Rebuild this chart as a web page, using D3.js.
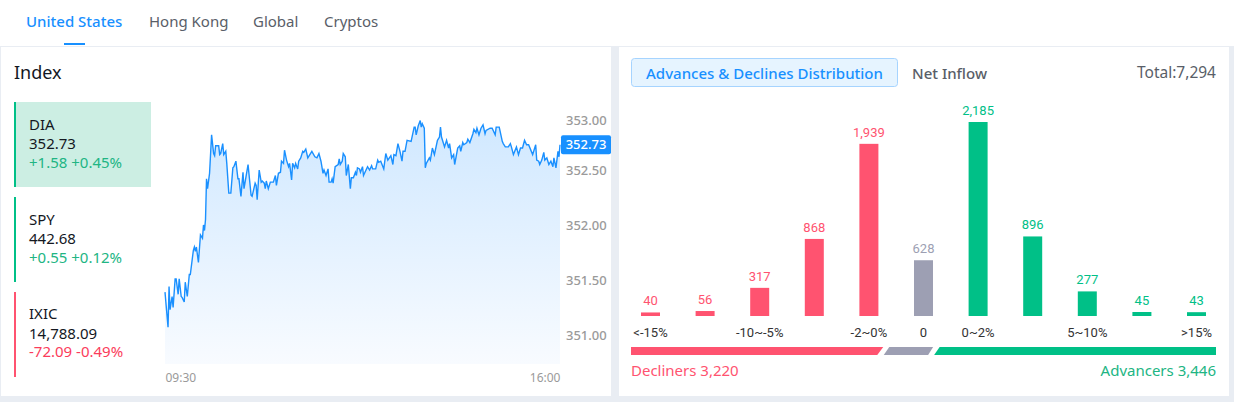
<!DOCTYPE html>
<html lang="en">
<head>
    <meta charset="UTF-8">
    <title>Market Overview</title>
    <style>
        html, body { margin: 0; padding: 0; background: #e9edf3; overflow: hidden; }
        svg { display: block; font-family: "Noto Sans", sans-serif; }
        .axis path, .axis line { display: none; }
    </style>
</head>
<body>

    <div id="d3-container"></div>

    <script src="https://d3js.org/d3.v7.min.js"></script>
    <script>
        const tabs = ["United States", "Hong Kong", "Global", "Cryptos"];

        const indexNames = ["DIA", "SPY", "IXIC"];
        const indexPrices = ["352.73", "442.68", "14,788.09"];
        const indexChanges = ["+1.58 +0.45%", "+0.55 +0.12%", "-72.09 -0.49%"];

        // minutes since the 09:30 open, paired with prices below
        const minutes = [
            0, 3, 4, 5, 7, 8, 10, 11, 13, 14, 16, 17, 19, 20, 22, 24, 25, 28, 29, 30, 31, 33, 35, 37, 38, 39, 40,
            41, 42, 44, 46, 48, 49, 50, 53, 54, 55, 57, 58, 60, 61, 63, 65, 67, 68, 70, 72, 73, 75, 77, 78, 80, 82, 85, 86, 89, 90, 91, 93,
            95, 96, 98, 99, 100, 102, 104, 107, 109, 110, 112, 114, 115, 117, 118, 120, 122, 123, 125, 126, 128, 129, 131, 132, 134,
            136, 137, 139, 141, 143, 145, 148, 150, 152, 154, 156, 157, 159, 161, 162, 164, 165, 166, 168, 171, 172, 173, 175, 176, 178,
            179, 181, 183, 184, 186, 188, 189, 190, 192,
            193, 195, 196, 200, 202, 204, 205, 208, 210, 211, 213, 216, 218, 220, 223, 225, 226, 228, 230, 232, 234, 235, 237, 239, 243,
            246, 247, 248, 250, 252, 253, 254, 256, 257, 258, 261, 262, 264, 266, 269, 271, 272, 273, 276, 278, 280, 281, 283, 285, 286, 289, 291,
            292, 294, 295, 298, 299, 301, 304, 305, 307, 308, 310, 312, 314, 316, 317, 321, 323, 326, 327, 330, 333, 334, 336, 339, 341,
            342, 344, 347, 349, 351, 353, 355, 357, 359, 363, 366, 367, 369, 370, 372, 374, 375, 377, 379, 381, 383, 384, 386, 388, 389, 390
        ];
        const prices = [
            351.39, 351.07, 351.44, 351.23, 351.35, 351.25, 351.51, 351.51, 351.37, 351.51, 351.35, 351.34, 351.30, 351.48, 351.35, 351.55, 351.55, 351.77, 351.80, 351.76, 351.80, 351.66, 351.91, 351.88, 352.00, 351.95, 352.05,
            352.42, 352.33, 352.47, 352.82, 352.65, 352.63, 352.72, 352.72, 352.64, 352.65, 352.74, 352.64, 352.67, 352.56, 352.29, 352.29, 352.52, 352.53, 352.58, 352.42, 352.42, 352.26, 352.48, 352.33, 352.44, 352.55, 352.27, 352.26, 352.38, 352.36, 352.23, 352.50,
            352.39, 352.40, 352.38, 352.33, 352.40, 352.33, 352.39, 352.39, 352.45, 352.36, 352.47, 352.48, 352.58, 352.56, 352.68, 352.59, 352.53, 352.56, 352.41, 352.56, 352.52, 352.56, 352.51, 352.58, 352.61,
            352.67, 352.66, 352.69, 352.61, 352.64, 352.67, 352.62, 352.61, 352.65, 352.58, 352.47, 352.50, 352.45, 352.51, 352.39, 352.39, 352.42, 352.38, 352.53, 352.55, 352.60, 352.55, 352.58, 352.65, 352.62,
            352.45, 352.55, 352.33, 352.43, 352.43, 352.48, 352.45, 352.52, 352.51,
            352.48, 352.53, 352.45, 352.53, 352.50, 352.54, 352.51, 352.51, 352.59, 352.57, 352.58, 352.51, 352.65, 352.59, 352.63, 352.55, 352.64, 352.63, 352.74, 352.67, 352.58, 352.67, 352.67, 352.77, 352.76,
            352.89, 352.89, 352.82, 352.90, 352.95, 352.89, 352.92, 352.88, 352.52, 352.56, 352.61, 352.59, 352.70, 352.64, 352.77, 352.80, 352.89, 352.80, 352.71, 352.77, 352.70, 352.74, 352.61, 352.64, 352.55, 352.70, 352.72,
            352.67, 352.75, 352.73, 352.75, 352.78, 352.75, 352.83, 352.87, 352.84, 352.88, 352.82, 352.88, 352.91, 352.83, 352.86, 352.88, 352.88, 352.82, 352.89, 352.89, 352.76, 352.74, 352.71, 352.71, 352.74,
            352.71, 352.64, 352.71, 352.64, 352.70, 352.70, 352.77, 352.73, 352.73, 352.64, 352.73, 352.59, 352.58, 352.55, 352.59, 352.66, 352.59, 352.61, 352.55, 352.58, 352.53, 352.61, 352.52, 352.67, 352.62, 352.73
        ];
        const priceTicks = [351, 351.5, 352, 352.5, 353];
        const lastPrice = 352.73;
        const timeTicks = [0, 390];
        const timeLabels = ["09:30", "16:00"];

        const buckets = ["<-15%", "-15~-10%", "-10~-5%", "-5~-2%", "-2~0%", "0", "0~2%", "2~5%", "5~10%", "10~15%", ">15%"];
        const bucketCounts = [40, 56, 317, 868, 1939, 628, 2185, 896, 277, 45, 43];
        const bucketTicks = ["<-15%", "-10~-5%", "-2~0%", "0", "0~2%", "5~10%", ">15%"];

        const decliners = 3220;
        const neutral = 628;
        const advancers = 3446;
        const total = 7294;

        const width = 1234;
        const height = 402;
        const red = "#ff5370";
        const green = "#00c087";
        const grey = "#9d9fb3";
        const blue = "#1890ff";

        const svg = d3.select('#d3-container')
            .append('svg')
            .attr('width', width)
            .attr('height', height);

        // page frame
        svg.append('rect').attr('width', width).attr('height', height).attr('fill', '#e9edf3');
        svg.append('rect').attr('width', width).attr('height', 46).attr('fill', '#fff');
        svg.append('rect').attr('x', 1).attr('y', 47).attr('width', 610).attr('height', 349).attr('fill', '#fff');
        svg.append('rect').attr('x', 619).attr('y', 47).attr('width', 610).attr('height', 349).attr('fill', '#fff');

        // tabs
        const tabX = [26, 149, 253, 324];
        svg.append('g').selectAll('text')
            .data(tabs)
            .join('text')
            .attr('x', (d, i) => tabX[i])
            .attr('y', 27)
            .attr('font-size', '15px')
            .attr('font-weight', (d, i) => i === 0 ? 500 : 400)
            .attr('fill', (d, i) => i === 0 ? blue : '#595e68')
            .text(d => d);
        svg.append('rect').attr('x', 64).attr('y', 43).attr('width', 21).attr('height', 2).attr('fill', blue);

        svg.append('text').attr('x', 14).attr('y', 79)
            .attr('font-size', '18px').attr('fill', '#14181f').text('Index');

        // index cards
        const card = svg.append('g').selectAll('g')
            .data(indexNames)
            .join('g')
            .attr('transform', (d, i) => `translate(14, ${102 + i * 95})`);
        card.append('rect')
            .attr('width', 137).attr('height', 85)
            .attr('fill', (d, i) => i === 0 ? '#cceee3' : '#fff');
        card.append('rect')
            .attr('width', 2).attr('height', 85)
            .attr('fill', (d, i) => indexChanges[i][0] === '+' ? green : red);
        card.append('text').attr('x', 15).attr('y', (d, i) => 28 - i * 0.5)
            .attr('font-size', '15px').attr('fill', '#14181f').text(d => d);
        card.append('text').attr('x', 15).attr('y', (d, i) => 47 - i * 0.25)
            .attr('font-size', '15px').attr('fill', '#14181f').text((d, i) => indexPrices[i]);
        card.append('text').attr('x', 15).attr('y', (d, i) => 66 - i * 0.5)
            .attr('font-size', '15px')
            .attr('fill', (d, i) => indexChanges[i][0] === '+' ? '#21b583' : '#fb3c5b')
            .text((d, i) => indexChanges[i]);

        // intraday chart
        const x = d3.scaleLinear().domain([0, 390]).range([165, 560]);
        const y = d3.scaleLinear().domain([351, 353]).range([335, 115]);

        const defs = svg.append('defs');
        const grad = defs.append('linearGradient')
            .attr('id', 'areaFill')
            .attr('x1', 0).attr('x2', 0).attr('y1', 0).attr('y2', 1);
        grad.append('stop').attr('offset', '0%').attr('stop-color', '#d0e8ff');
        grad.append('stop').attr('offset', '100%').attr('stop-color', '#f8fbff');

        const pts = minutes.map((m, i) => [m, prices[i]]);

        svg.append('path')
            .datum(pts)
            .attr('fill', 'url(#areaFill)')
            .attr('d', d3.area().x(d => x(d[0])).y0(364).y1(d => y(d[1])));
        svg.append('path')
            .datum(pts)
            .attr('fill', 'none')
            .attr('stroke', '#1a90ff')
            .attr('stroke-width', 1.4)
            .attr('d', d3.line().x(d => x(d[0])).y(d => y(d[1])));

        const yAxis = svg.append('g')
            .attr('class', 'axis')
            .attr('transform', 'translate(566, 0)')
            .call(d3.axisRight(y).tickValues(priceTicks).tickSize(0).tickPadding(0).tickFormat(d3.format('.2f')));
        yAxis.selectAll('text')
            .attr('font-family', '"Noto Sans", sans-serif')
            .attr('font-size', '13px')
            .attr('font-weight', 500)
            .attr('fill', '#9a9a9a')
            .attr('dy', d => d === 353 ? '0.72em' : '0.32em');

        const xAxis = svg.append('g')
            .attr('class', 'axis')
            .attr('transform', 'translate(0, 364)')
            .call(d3.axisBottom(x).tickValues(timeTicks).tickSize(0).tickPadding(9).tickFormat((d, i) => timeLabels[i]));
        xAxis.selectAll('text')
            .attr('font-family', '"Noto Sans", sans-serif')
            .attr('font-size', '12px')
            .attr('fill', '#9a9a9a')
            .attr('text-anchor', (d, i) => i === 0 ? 'start' : 'end');

        // last price tag
        svg.append('rect')
            .attr('x', 561).attr('y', y(lastPrice) - 9.5)
            .attr('width', 50).attr('height', 19).attr('rx', 2)
            .attr('fill', blue);
        svg.append('text')
            .attr('x', 586).attr('y', y(lastPrice) + 4.5)
            .attr('text-anchor', 'middle')
            .attr('font-size', '13px').attr('font-weight', 500).attr('fill', '#fff')
            .text(d3.format('.2f')(lastPrice));

        // right panel header
        svg.append('rect')
            .attr('x', 631.5).attr('y', 58.5).attr('width', 266).attr('height', 28).attr('rx', 3)
            .attr('fill', '#e6f4ff').attr('stroke', '#a6d4ff');
        svg.append('text').attr('x', 764.5).attr('y', 79).attr('text-anchor', 'middle')
            .attr('font-size', '15px').attr('font-weight', 500).attr('fill', blue)
            .text('Advances & Declines Distribution');
        svg.append('text').attr('x', 912).attr('y', 79)
            .attr('font-size', '15px').attr('font-weight', 500).attr('fill', '#595e68').text('Net Inflow');
        svg.append('text').attr('x', 1216).attr('y', 78).attr('text-anchor', 'end')
            .attr('font-size', '15.5px').attr('fill', '#595e68').text('Total:' + d3.format(',')(total));

        // distribution bars
        const bx = d3.scaleBand().domain(buckets).range([623.2, 1223.8]).paddingInner(0.652).paddingOuter(0.326);
        const by = d3.scaleLinear().domain([0, 2185]).range([316, 122]);
        const bucketColor = i => i < 5 ? red : i === 5 ? grey : green;

        svg.append('g').selectAll('rect')
            .data(bucketCounts)
            .join('rect')
            .attr('x', (d, i) => bx(buckets[i]))
            .attr('y', d => by(d))
            .attr('width', bx.bandwidth())
            .attr('height', d => by(0) - by(d))
            .attr('fill', (d, i) => bucketColor(i));

        svg.append('g').selectAll('text')
            .data(bucketCounts)
            .join('text')
            .attr('x', (d, i) => bx(buckets[i]) + bx.bandwidth() / 2)
            .attr('y', d => by(d) - 7)
            .attr('text-anchor', 'middle')
            .attr('font-family', 'Roboto, sans-serif')
            .attr('font-size', '13px')
            .attr('fill', (d, i) => bucketColor(i))
            .text(d => d3.format(',')(d));

        const bAxis = svg.append('g')
            .attr('class', 'axis')
            .attr('transform', 'translate(0, 316)')
            .call(d3.axisBottom(bx).tickValues(bucketTicks).tickSize(0).tickPadding(12));
        bAxis.selectAll('text')
            .attr('font-family', 'Roboto, sans-serif')
            .attr('font-size', '13px')
            .attr('fill', '#333');

        // decliners / neutral / advancers strip
        const sx = d3.scaleLinear().domain([0, total]).range([631, 1216]);
        const b1 = sx(decliners);
        const b2 = sx(decliners + neutral);
        const stripTop = 347;
        const stripBottom = 355;
        const strip = [
            { fill: red, pts: [[sx(0), stripTop], [b1 - 6, stripTop], [b1 - 12, stripBottom], [sx(0), stripBottom]] },
            { fill: grey, pts: [[b1, stripTop], [b2 - 6.5, stripTop], [b2 - 11.5, stripBottom], [b1 - 5.5, stripBottom]] },
            { fill: green, pts: [[b2, stripTop], [sx(total), stripTop], [sx(total), stripBottom], [b2 - 5.5, stripBottom]] }
        ];
        svg.append('g').selectAll('polygon')
            .data(strip)
            .join('polygon')
            .attr('points', d => d.pts.join(' '))
            .attr('fill', d => d.fill);

        svg.append('text').attr('x', 631).attr('y', 376)
            .attr('font-size', '15px').attr('fill', red)
            .text('Decliners ' + d3.format(',')(decliners));
        svg.append('text').attr('x', 1216).attr('y', 376).attr('text-anchor', 'end')
            .attr('font-size', '15px').attr('fill', '#21b583')
            .text('Advancers ' + d3.format(',')(advancers));
    </script>

</body>
</html>
